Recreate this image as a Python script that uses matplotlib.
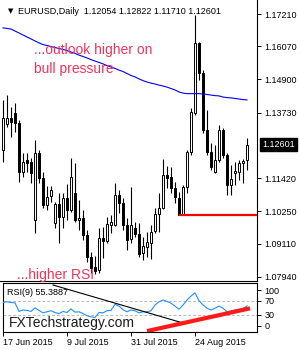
import matplotlib
matplotlib.use("Agg")
import matplotlib.pyplot as plt
import matplotlib.transforms as mtransforms
import numpy as np

# Tagesdaten EURUSD, 17 Jun 2015 .. 10 Sep 2015
opens = [1.1241, 1.1333, 1.1354, 1.1372, 1.1337, 1.1164, 1.1206, 1.1199, 1.0994, 1.1231,
         1.1142, 1.1047, 1.1079, 1.0984, 1.1051, 1.1005, 1.1072, 1.1029, 1.1089, 1.0994,
         1.1001, 1.0941, 1.0864, 1.0828, 1.0818, 1.0931, 1.0920, 1.0976, 1.0976, 1.1082,
         1.1054, 1.0976, 1.0927, 1.0966, 1.0945, 1.0878, 1.0899, 1.0913, 1.0955, 1.1015,
         1.1036, 1.1153, 1.1146, 1.1107, 1.1072, 1.1013, 1.1111, 1.1234, 1.1372, 1.1619,
         1.1513, 1.1312, 1.1234, 1.1164, 1.1206, 1.1312, 1.1223, 1.1118, 1.1160, 1.1164,
         1.1195, 1.12054]
highs = [1.1418, 1.1435, 1.1393, 1.1407, 1.1347, 1.1231, 1.1231, 1.1213, 1.1276, 1.1241,
         1.1163, 1.1114, 1.1114, 1.1058, 1.1089, 1.1089, 1.1121, 1.1213, 1.1195, 1.1065,
         1.1029, 1.0959, 1.0881, 1.0867, 1.0966, 1.0969, 1.1005, 1.1012, 1.1125, 1.1100,
         1.1072, 1.1001, 1.1111, 1.0987, 1.0984, 1.0934, 1.0952, 1.0976, 1.1036, 1.1089,
         1.1209, 1.1185, 1.1181, 1.1128, 1.1093, 1.1118, 1.1241, 1.1389, 1.1717, 1.1622,
         1.1523, 1.1382, 1.1266, 1.1259, 1.1329, 1.1319, 1.1231, 1.1188, 1.1199, 1.1206,
         1.1209, 1.12822]
lows = [1.1199, 1.1322, 1.1287, 1.1305, 1.1128, 1.1146, 1.1164, 1.1125, 1.0948, 1.1125,
        1.1037, 1.1030, 1.1058, 1.0966, 1.0913, 1.0966, 1.0994, 1.1022, 1.0987, 1.0959,
        1.0924, 1.0846, 1.0807, 1.0804, 1.0807, 1.0860, 1.0913, 1.0948, 1.0973, 1.1019,
        1.0959, 1.0888, 1.0913, 1.0934, 1.0864, 1.0853, 1.0864, 1.0857, 1.0948, 1.0952,
        1.1033, 1.1107, 1.1089, 1.1054, 1.1013, 1.1013, 1.1089, 1.1223, 1.1365, 1.1488,
        1.1301, 1.1223, 1.1171, 1.1160, 1.1199, 1.1213, 1.1082, 1.1082, 1.1118, 1.1135,
        1.1125, 1.11710]
closes = [1.1354, 1.1354, 1.1340, 1.1337, 1.1164, 1.1199, 1.1195, 1.1160, 1.1231, 1.1142,
          1.1047, 1.1075, 1.1100, 1.1051, 1.1005, 1.1072, 1.1029, 1.1146, 1.0994, 1.1001,
          1.0941, 1.0864, 1.0825, 1.0814, 1.0931, 1.0920, 1.0980, 1.0987, 1.1082, 1.1054,
          1.0976, 1.0924, 1.0976, 1.0945, 1.0874, 1.0902, 1.0916, 1.0952, 1.1015, 1.1036,
          1.1153, 1.1142, 1.1107, 1.1075, 1.1013, 1.1111, 1.1234, 1.1375, 1.1619, 1.1513,
          1.1312, 1.1234, 1.1181, 1.1206, 1.1312, 1.1223, 1.1118, 1.1139, 1.1167, 1.1195,
          1.1202, 1.12601]

# gleitender Durchschnitt (blaue Linie)
ma = [1.1672, 1.1670, 1.1668, 1.1661, 1.1654, 1.1647, 1.1640, 1.1633, 1.1626, 1.1619,
      1.1613, 1.1610, 1.1606, 1.1603, 1.1599, 1.1596, 1.1592, 1.1587, 1.1582, 1.1576,
      1.1571, 1.1566, 1.1560, 1.1555, 1.1550, 1.1545, 1.1539, 1.1534, 1.1529, 1.1523,
      1.1518, 1.1511, 1.1504, 1.1499, 1.1492, 1.1486, 1.1481, 1.1477, 1.1474, 1.1470,
      1.1467, 1.1463, 1.1458, 1.1453, 1.1446, 1.1442, 1.1440, 1.1440, 1.1440, 1.1440,
      1.1439, 1.1437, 1.1435, 1.1433, 1.1432, 1.1428, 1.1426, 1.1425, 1.1423, 1.1421,
      1.1419, 1.1418]

# RSI(9)
rsi = [65, 67, 65, 64, 40, 44, 43, 40, 50, 43,
       36, 39, 42, 37, 34, 40, 37, 47, 38, 39,
       34, 28, 25, 23, 37, 36, 42, 43, 60, 55,
       45, 39, 44, 42, 36, 39, 39, 42, 58, 67,
       72, 68, 63, 55, 46, 58, 72, 83, 92, 70,
       58, 49, 44, 49, 55, 49, 39, 41, 44, 46,
       48, 55.39]

price_ticks = [1.17210, 1.16070, 1.14900, 1.13730, 1.11420, 1.10250, 1.09110, 1.07940]
last_price = 1.12601
support = 1.1013
support_from_bar = 44
rsi_ticks = [100, 70, 30, 0]
rsi_levels = [70, 30]
rsi_down_line = ([12.5, 44.75], [114, 8.4])
rsi_up_line = ([36, 61.75], [-15, 48.7])
date_bars = [0, 16, 32, 48]
date_labels = ["17 Jun 2015", "9 Jul 2015", "31 Jul 2015", "24 Aug 2015"]

FONT = "Liberation Sans"
RED_TEXT = "#f0345a"

fig = plt.figure(figsize=(3, 3.5), dpi=100)
fig.patch.set_facecolor("white")

# Hauptfenster
ax = fig.add_axes([0, 69 / 350, 257 / 300, 281 / 350])
x = np.arange(len(closes))
o = np.array(opens)
c = np.array(closes)
up = c >= o
ax.vlines(x, lows, highs, color="black", lw=0.8, zorder=2)
body_low = np.minimum(o, c)
body_h = np.maximum(np.abs(c - o), 0.00025)
ax.bar(x[up], body_h[up], bottom=body_low[up], width=0.55,
       facecolor="white", edgecolor="black", lw=0.7, zorder=3)
ax.bar(x[~up], body_h[~up], bottom=body_low[~up], width=0.55,
       facecolor="black", edgecolor="black", lw=0.7, zorder=3)
ax.plot(x, ma, color="#0000ff", lw=0.8, zorder=4)
ax.hlines(support, support_from_bar, 63.5, color="#ff0000", lw=1.6, zorder=4)

ax.set_xlim(-0.75, 63.5)
ax.set_ylim(1.07789, 1.17704)
ax.set_xticks([])
ax.yaxis.tick_right()
ax.set_yticks(price_ticks)
ax.set_yticklabels(["%.5f" % v for v in price_ticks], fontfamily=FONT)
ax.tick_params(axis="y", length=3, width=0.7, labelsize=6.5, pad=2.5)
for s in ["left", "top"]:
    ax.spines[s].set_visible(False)
for s in ["right", "bottom"]:
    ax.spines[s].set_linewidth(0.8)

trans = mtransforms.blended_transform_factory(ax.transAxes, ax.transData)
ax.text(1 + 5 / 257, last_price, "%.5f" % last_price, transform=trans,
        ha="left", va="center", color="white", fontsize=6.5, fontfamily=FONT,
        bbox=dict(boxstyle="square,pad=0.25", facecolor="black", edgecolor="black"),
        clip_on=False)

# RSI Fenster
ax2 = fig.add_axes([3 / 300, 18 / 350, 254 / 300, 49 / 350])
for lvl in rsi_levels:
    ax2.axhline(lvl, color="#b8b8b8", lw=0.7, ls=(0, (3, 2)), zorder=1)
ax2.plot(x, rsi, color="#1e90ff", lw=0.8, zorder=3)
ax2.plot(rsi_down_line[0], rsi_down_line[1], color="black", lw=0.8, zorder=4)
ax2.plot(rsi_up_line[0], rsi_up_line[1], color="#ff1a1a", lw=3, zorder=4,
         solid_capstyle="butt")
ax2.set_xlim(0, 63.5)
ax2.set_ylim(-17.6, 119.6)
ax2.yaxis.tick_right()
ax2.set_yticks(rsi_ticks)
ax2.set_yticklabels([str(v) for v in rsi_ticks], fontfamily=FONT)
ax2.tick_params(axis="y", length=3, width=0.7, labelsize=6.5, pad=2.5)
ax2.set_xticks(date_bars)
ax2.set_xticklabels(date_labels, fontfamily=FONT, ha="left")
ax2.tick_params(axis="x", length=3, width=0.7, labelsize=6.5, pad=1.5)
for s in ax2.spines.values():
    s.set_linewidth(0.8)

# Texte
def px(xp, yp):
    return xp / 300, 1 - yp / 350

fig.text(*px(8, 11), "\u25bc", fontsize=5, fontfamily="DejaVu Sans", va="center")
fig.text(*px(18, 11), "EURUSD,Daily  1.12054 1.12822 1.11710 1.12601",
         fontsize=6.5, fontfamily=FONT, va="center")
fig.text(*px(34, 50), "...outlook higher on", fontsize=10, fontfamily=FONT,
         color=RED_TEXT, va="center")
fig.text(*px(34, 69), "bull pressure", fontsize=10, fontfamily=FONT,
         color=RED_TEXT, va="center")
fig.text(*px(17, 275), "...higher RSI", fontsize=10, fontfamily=FONT,
         color=RED_TEXT, va="center")
fig.text(*px(7, 292.5), "RSI(9) 55.3887", fontsize=6.5, fontfamily=FONT, va="center")
fig.text(*px(9, 322.5), "FXTechstrategy.com", fontsize=10, fontfamily=FONT,
         color="#1c1c1c", va="center")

fig.savefig("out.png", dpi=100)
